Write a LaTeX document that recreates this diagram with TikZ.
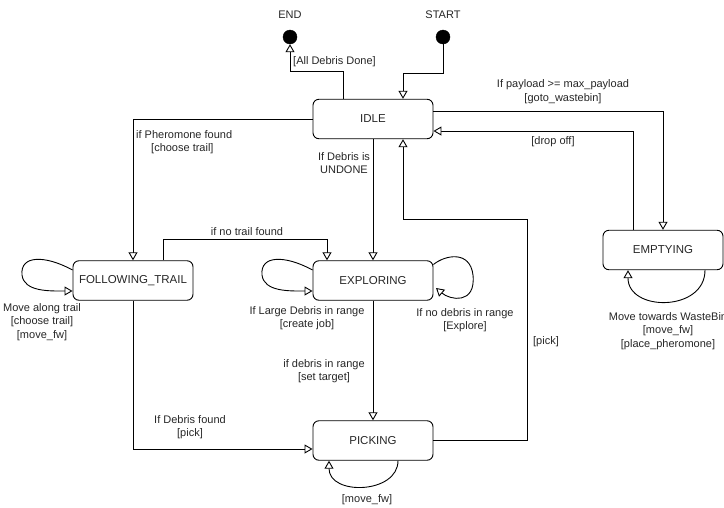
\documentclass[tikz,border=0pt]{standalone}
\usepackage{fontspec}
\setmainfont{Liberation Sans}
\usetikzlibrary{arrows.meta,calc}
\begin{document}
\begin{tikzpicture}[x=1pt,y=-1pt,
  state/.style={draw, line width=0.9pt, rounded corners=6pt, minimum width=120pt, minimum height=39.5pt, inner sep=0pt, font=\fontsize{11.5}{13}\selectfont, text=black!85},
  term/.style={circle, fill=black, draw=black, minimum size=14pt, inner sep=0pt},
  lbl/.style={font=\fontsize{11}{13.5}\selectfont, align=center, inner sep=0pt, text=black!85},
  arr/.style={line width=0.9pt, -{Triangle[open, length=8pt, width=9pt, fill=white]}}]
\useasboundingbox (0,0) rectangle (724,507);

% states
\node[state] (IDLE) at (373,119) {IDLE};
\node[state] (FT) at (133,280.5) {FOLLOWING\_TRAIL};
\node[state] (EXPL) at (373,280.5) {EXPLORING};
\node[state] (PICK) at (373,440.5) {PICKING};
\node[state] (EMPT) at (663,250) {EMPTYING};
\node[term] (END) at (290,37) {};
\node[term] (START) at (443,37) {};
\node[lbl] (tEND) at (290,15) {END};
\node[lbl] (tSTART) at (443,15) {START};

% bend points
\coordinate (b1) at (290,71);
\coordinate (b2) at (403,73);
\coordinate (b5) at (327,239);
\coordinate (b11a) at (527,219);
\coordinate (b11b) at (403,219);

% connectors
\draw[arr] ($(IDLE.north)+(-30,0)$) |- (b1) -- (END);
\draw[arr] (START) |- (b2) -- (b2 |- IDLE.north);
\draw[arr] (IDLE.west) -| (FT.north);
\draw[arr] (IDLE.south) -- (EXPL.north);
\draw[arr] ($(FT.north)+(30,0)$) |- (b5) -- (b5 |- EXPL.north);
\draw[arr] (EXPL.south) -- (PICK.north);
\draw[arr] (FT.south) |- ($(PICK.west)+(0,8.5)$);
\draw[arr] (PICK.east) -| (b11a) -- (b11b) -- (b11b |- IDLE.south);
\draw[arr] ($(IDLE.east)+(0,-8)$) -| (EMPT.north);
\draw[arr] ($(EMPT.north)+(-30,0)$) |- ($(IDLE.east)+(0,12)$);

% self loops
\draw[arr] ($(FT.west)+(0,-10.5)$) .. controls (45,255) and (20,255) .. (22,275) .. controls (24,292) and (50,291) .. ($(FT.west)+(0,10.5)$);
\draw[arr] ($(EXPL.west)+(0,-10.5)$) .. controls (285,255) and (260,255) .. (262,275) .. controls (264,292) and (290,291) .. ($(EXPL.west)+(0,10.5)$);
\draw[arr] ($(EXPL.east)+(0,-16)$) .. controls (445,255) and (470,250) .. (473,275) .. controls (476,305) and (450,300) .. (436,288);
\draw[arr] ($(PICK.south)+(25,0)$) .. controls (398,494) and (329,496) .. ($(PICK.south)+(-44,0)$);
\draw[arr] ($(EMPT.south)+(42,0)$) .. controls (705,312) and (628,312) .. ($(EMPT.south)+(-35,0)$);

% labels
\node[lbl, anchor=west] (l1) at (293,62) {[All Debris Done]};
\node[lbl] (l2) at (563,91.5) {If payload >= max\_payload\\{[goto\_wastebin]}};
\node[lbl] (l3) at (553,142) {[drop off]};
\node[lbl, anchor=west, align=left] (l4) at (136,142) {if Pheromone found\\\hspace*{15pt}[choose trail]};
\node[lbl] (l5) at (344,163) {If Debris is\\UNDONE};
\node[lbl] (l6) at (247,232) {if no trail found};
\node[lbl] (l7) at (42,322) {Move along trail\\{[choose trail]}\\{[move\_fw]}};
\node[lbl] (l8) at (307,318) {If Large Debris in range\\{[create job]}};
\node[lbl] (l9) at (465,320) {If no debris in range\\{[Explore]}};
\node[lbl] (l10) at (546,342) {[pick]};
\node[lbl] (l11) at (668,331) {Move towards WasteBin\\{[move\_fw]}\\{[place\_pheromone]}};
\node[lbl] (l12) at (324,371) {if debris in range\\{[set target]}};
\node[lbl] (l13) at (190,427) {If Debris found\\{[pick]}};
\node[lbl] (l14) at (367,500) {[move\_fw]};
\end{tikzpicture}
\end{document}
